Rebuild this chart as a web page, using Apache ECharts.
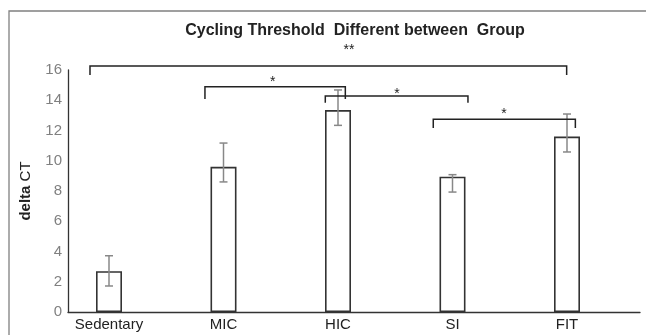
<!DOCTYPE html>
<html><head><meta charset="utf-8">
<script src="https://cdn.jsdelivr.net/npm/echarts@6/dist/echarts.min.js"></script>
<style>html,body{margin:0;padding:0;background:#fff}#c{width:646px;height:335px}</style>
</head><body><div id="c"></div>
<script>
var categories = ['Sedentary', 'MIC', 'HIC', 'SI', 'FIT'];
var values = [2.7, 9.6, 13.35, 8.95, 11.6];
var errHigh = [3.72, 11.17, 14.68, 9.08, 13.09];
var errLow = [1.72, 8.6, 12.34, 7.93, 10.58];
var yTicks = [0, 2, 4, 6, 8, 10, 12, 14, 16];
// significance brackets: [from (category units), to, top y, end y]
var brackets = [[-0.166, 3.997, 16.26, 15.67], [0.838, 2.064, 14.9, 14.08], [1.889, 3.135, 14.28, 13.84], [2.832, 4.073, 12.74, 12.17]];
// significance stars: [x (category units), y, text]
var stars = [[2.096, 17.3, '**'], [1.43, 15.2, '*'], [2.515, 14.4, '*'], [3.45, 13.1, '*']];

var chart = echarts.init(document.getElementById('c'), null, {renderer: 'canvas'});
var FONT = '"Liberation Sans", Arial, sans-serif';
var option = {
  animation: false,
  textStyle: {fontFamily: FONT},
  title: {
    text: 'Cycling Threshold  Different between  Group',
    left: 350, top: 18, textAlign: 'center',
    textStyle: {fontFamily: FONT, fontSize: 16, fontWeight: 'bold', color: '#222'}
  },
  graphic: [{type: 'rect', shape: {x: 9, y: 11, width: 700, height: 400}, style: {fill: 'none', stroke: '#808080', lineWidth: 1.3}, silent: true, z: -1}],
  grid: [
    {left: 51.75, right: 21.75, top: 70, bottom: 23},
    {left: 68, right: 6, top: 70, bottom: 23}
  ],
  xAxis: [
    {type: 'category', gridIndex: 0, data: categories, axisLine: {show: false}, axisTick: {show: false},
     axisLabel: {margin: 5, fontSize: 15, color: '#222', fontFamily: FONT}},
    {type: 'value', gridIndex: 0, min: -0.5, max: 4.5, show: false},
    {type: 'value', gridIndex: 1, min: 0, max: 1, axisLine: {show: true, lineStyle: {color: '#333', width: 1.3}},
     axisTick: {show: false}, axisLabel: {show: false}, splitLine: {show: false}}
  ],
  yAxis: [
    {type: 'value', gridIndex: 0, min: 0, max: 16, show: false},
    {type: 'value', gridIndex: 1, min: 0, max: 16, interval: 2,
     axisLine: {show: true, lineStyle: {color: '#333', width: 1.3}}, axisTick: {show: false}, splitLine: {show: false},
     axisLabel: {margin: 6, fontSize: 15, color: '#808080', fontFamily: FONT,
       formatter: function (v) { return yTicks.indexOf(v) >= 0 ? String(v) : ''; }},
     name: '{b|delta} CT', nameLocation: 'middle', nameGap: 35, nameRotate: 90,
     nameTextStyle: {fontSize: 15, color: '#222', fontFamily: FONT,
       rich: {b: {fontWeight: 'bold', fontSize: 15, color: '#222', fontFamily: FONT}}}}
  ],
  series: [
    {type: 'bar', xAxisIndex: 0, yAxisIndex: 0, data: values, barWidth: 26,
     itemStyle: {color: '#fff', borderColor: '#333', borderWidth: 1.6}},
    {type: 'custom', xAxisIndex: 0, yAxisIndex: 0,
     data: categories.map(function (c, i) { return [i, errLow[i], errHigh[i]]; }),
     renderItem: function (params, api) {
       var lo = api.coord([api.value(0), api.value(1)]);
       var hi = api.coord([api.value(0), api.value(2)]);
       var hw = 4, st = {stroke: '#888', lineWidth: 1.5};
       return {type: 'group', children: [
         {type: 'line', shape: {x1: hi[0], y1: hi[1], x2: lo[0], y2: lo[1]}, style: st},
         {type: 'line', shape: {x1: hi[0] - hw, y1: hi[1], x2: hi[0] + hw, y2: hi[1]}, style: st},
         {type: 'line', shape: {x1: lo[0] - hw, y1: lo[1], x2: lo[0] + hw, y2: lo[1]}, style: st}
       ]};
     }, z: 5},
    {type: 'custom', xAxisIndex: 1, yAxisIndex: 0, clip: false, data: brackets,
     renderItem: function (params, api) {
       var a = api.coord([api.value(0), api.value(3)]);
       var b = api.coord([api.value(0), api.value(2)]);
       var c = api.coord([api.value(1), api.value(2)]);
       var d = api.coord([api.value(1), api.value(3)]);
       return {type: 'polyline', shape: {points: [a, b, c, d]}, style: {stroke: '#222', lineWidth: 1.5, fill: 'none'}};
     }, z: 6},
    {type: 'custom', xAxisIndex: 1, yAxisIndex: 0, clip: false, data: stars,
     renderItem: function (params, api) {
       var p = api.coord([api.value(0), api.value(1)]);
       return {type: 'text', x: p[0], y: p[1], style: {text: stars[params.dataIndex][2], align: 'center', verticalAlign: 'middle',
         font: '14px ' + FONT, fill: '#222'}};
     }, z: 6}
  ]
};
chart.setOption(option);
</script></body></html>
